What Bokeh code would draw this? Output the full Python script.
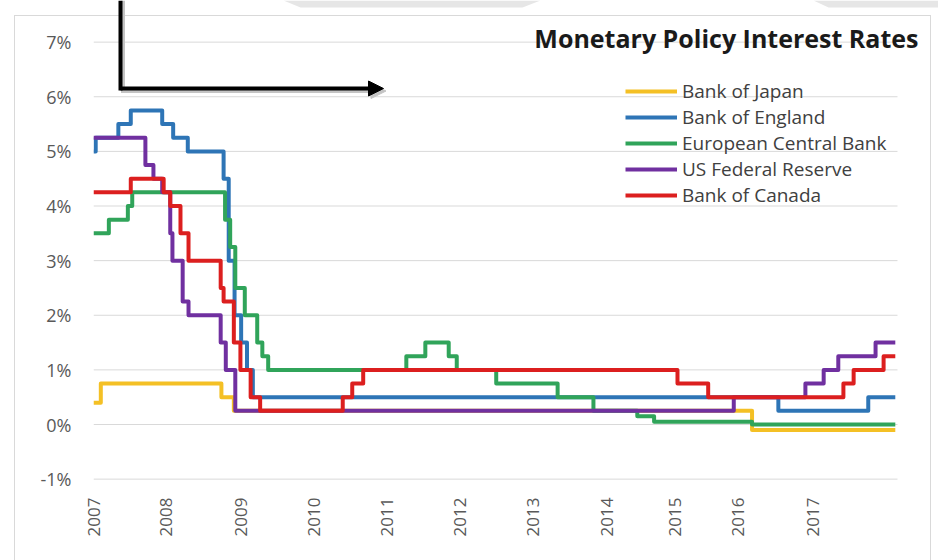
import math
from bokeh.plotting import figure
from bokeh.models import (FixedTicker, PrintfTickFormatter, Legend, LegendItem,
                          Label, Arrow, NormalHead, PolyAnnotation)
from bokeh.embed import file_html
from bokeh.resources import INLINE

# ---------------- data (positions on the chart's date axis, rates in %) ----------------
year_labels = ["2007", "2008", "2009", "2010", "2011", "2012",
               "2013", "2014", "2015", "2016", "2017"]
year_label_pos = [2007.00, 2007.99, 2009.02, 2010.01, 2011.02, 2012.01,
                  2013.01, 2014.03, 2014.95, 2015.82, 2016.85]
y_ticks = [-1, 0, 1, 2, 3, 4, 5, 6, 7]
axis_start, axis_end = 2007.0, 2018.0

boj_t = [2007.00, 2007.10, 2008.75, 2008.92, 2016.01, 2017.97]
boj_r = [0.4, 0.75, 0.5, 0.25, -0.1, -0.1]

boe_t = [2007.00, 2007.03, 2007.34, 2007.51, 2007.94, 2008.09, 2008.29, 2008.78,
         2008.85, 2008.93, 2009.02, 2009.10, 2009.18, 2016.37, 2017.60, 2017.97]
boe_r = [5.0, 5.25, 5.5, 5.75, 5.5, 5.25, 5.0, 4.5,
         3.0, 2.0, 1.5, 1.0, 0.5, 0.25, 0.5, 0.5]

ecb_t = [2007.00, 2007.21, 2007.47, 2007.53, 2008.80, 2008.87, 2008.94, 2009.07,
         2009.24, 2009.31, 2009.39, 2011.28, 2011.54, 2011.86, 2011.97, 2012.51,
         2013.35, 2013.84, 2014.44, 2014.67, 2016.01, 2017.97]
ecb_r = [3.5, 3.75, 4.0, 4.25, 3.75, 3.25, 2.5, 2.0,
         1.5, 1.25, 1.0, 1.25, 1.5, 1.25, 1.0, 0.75,
         0.5, 0.25, 0.15, 0.05, 0.0, 0.0]

fed_t = [2007.00, 2007.71, 2007.82, 2007.94, 2008.05, 2008.08, 2008.22, 2008.30,
         2008.74, 2008.81, 2008.94, 2015.76, 2016.74, 2016.99, 2017.19, 2017.70, 2017.97]
fed_r = [5.25, 4.75, 4.5, 4.25, 3.5, 3.0, 2.25, 2.0,
         1.5, 1.0, 0.25, 0.5, 0.75, 1.0, 1.25, 1.5, 1.5]

boc_t = [2007.00, 2007.51, 2007.96, 2008.05, 2008.19, 2008.30, 2008.74, 2008.78,
         2008.92, 2009.01, 2009.15, 2009.28, 2010.41, 2010.54, 2010.69, 2014.99,
         2015.41, 2017.26, 2017.40, 2017.81, 2017.97]
boc_r = [4.25, 4.5, 4.25, 4.0, 3.5, 3.0, 2.5, 2.25,
         1.5, 1.0, 0.5, 0.25, 0.5, 0.75, 1.0, 0.75,
         0.5, 0.75, 1.0, 1.25, 1.25]

series_names = ["Bank of Japan", "Bank of England", "European Central Bank",
                "US Federal Reserve", "Bank of Canada"]
series_t = [boj_t, boe_t, ecb_t, fed_t, boc_t]
series_r = [boj_r, boe_r, ecb_r, fed_r, boc_r]
series_colors = ["#F4C025", "#2E75B6", "#30A45A", "#7030A0", "#DC1F1F"]

# ---------------- layout helpers (page pixels -> data, decorations only) ----------------
X_LEFT_PX, X_PX_PER_UNIT = 93.0, 73.09
Y_ZERO_PX, Y_PX_PER_PCT = 424.0, 54.625


def dx(px):
    return axis_start + (px - X_LEFT_PX) / X_PX_PER_UNIT


def dy(py):
    return (Y_ZERO_PX - py) / Y_PX_PER_PCT


FONT = "Open Sans"
GRID = "#d9d9d9"

border_css = {
    "background-color": "white",
    "background-image": ", ".join([f"linear-gradient({GRID}, {GRID})"] * 3),
    "background-size": "1px 560px, 917px 1px, 1px 560px",
    "background-position": "14px 15px, 14px 15px, 930px 15px",
    "background-repeat": "no-repeat",
}

p = figure(width=938, height=560,
           x_range=(axis_start, dx(938)), y_range=(dy(481), dy(0)),
           output_backend="svg", toolbar_location=None, title_location=None,
           min_border_left=93, min_border_right=0,
           min_border_top=0, min_border_bottom=79, styles=border_css)
p.outline_line_color = None
p.background_fill_color = None
p.border_fill_color = None

# axes
p.yaxis.ticker = FixedTicker(ticks=y_ticks)
p.yaxis.formatter = PrintfTickFormatter(format="%d%%")
p.xaxis.ticker = FixedTicker(ticks=year_label_pos)
p.xaxis.major_label_overrides = dict(zip(year_label_pos, year_labels))
p.xaxis.major_label_orientation = math.pi / 2
for ax in (p.xaxis[0], p.yaxis[0]):
    ax.axis_line_color = None
    ax.major_tick_line_color = None
    ax.minor_tick_line_color = None
    ax.major_tick_out = 0
    ax.major_tick_in = 0
    ax.minor_tick_out = 0
    ax.major_label_text_font = FONT
    ax.major_label_text_color = "#595959"
p.xaxis.major_label_text_font_size = "17px"
p.yaxis.major_label_text_font_size = "18px"
p.yaxis.major_label_standoff = 22
p.xaxis.major_label_standoff = 16

# horizontal gridlines over the axis span only
p.xgrid.visible = False
p.ygrid.visible = False
p.segment(x0=[axis_start] * len(y_ticks), x1=[axis_end] * len(y_ticks),
          y0=y_ticks, y1=y_ticks, line_color=GRID, line_width=1)

# decorative grey band at the page top
BAND = "#e6e6e6"
p.add_layout(PolyAnnotation(xs=[dx(283), dx(540), dx(522), dx(300)],
                            ys=[dy(0), dy(0), dy(7), dy(7)],
                            fill_color=BAND, fill_alpha=1, line_color=None))
p.add_layout(PolyAnnotation(xs=[dx(813), dx(940), dx(940), dx(828)],
                            ys=[dy(0), dy(0), dy(7), dy(7)],
                            fill_color=BAND, fill_alpha=1, line_color=None))

# series
items = []
for name, t, r, c in zip(series_names, series_t, series_r, series_colors):
    rend = p.step(x=t, y=r, mode="after", line_width=4, line_color=c,
                  line_join="round")
    items.append(LegendItem(label=name, renderers=[rend]))

legend = Legend(items=items, location=(532, 273), padding=0, margin=0,
                border_line_color=None, background_fill_alpha=0,
                glyph_width=52, glyph_height=20, label_height=20, spacing=0,
                label_standoff=5, label_text_font=FONT,
                label_text_font_size="19px", label_text_color="#404040")
p.add_layout(legend)

# title
p.add_layout(Label(x=dx(918), y=dy(37), text="Monetary Policy Interest Rates",
                   text_align="right", text_baseline="alphabetic",
                   text_font=FONT, text_font_style="bold",
                   text_font_size="25px", text_color="#1a1a1a"))

# pasted arrow (with soft shadow)
sh = 2.5
SHADOW = "#c4c4c4"
p.add_layout(Arrow(end=None, x_start=dx(120 + sh), y_start=dy(90 + sh),
                   x_end=dx(120 + sh), y_end=dy(0), line_width=4,
                   line_color=SHADOW))
p.add_layout(Arrow(end=NormalHead(size=15, fill_color=SHADOW, line_color=SHADOW),
                   x_start=dx(120 + sh), y_start=dy(88 + sh),
                   x_end=dx(383 + sh), y_end=dy(88 + sh), line_width=4,
                   line_color=SHADOW))
p.add_layout(Arrow(end=None, x_start=dx(120), y_start=dy(90), x_end=dx(120),
                   y_end=dy(0), line_width=4, line_color="black"))
p.add_layout(Arrow(end=NormalHead(size=15, fill_color="black", line_color="black"),
                   x_start=dx(120), y_start=dy(88), x_end=dx(383), y_end=dy(88),
                   line_width=4, line_color="black"))

open("out.html", "w").write(file_html(p, INLINE))
